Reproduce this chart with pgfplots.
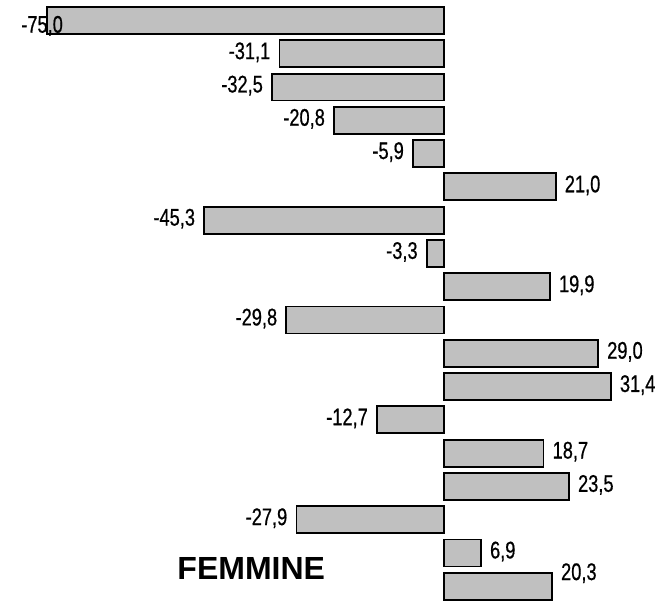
\documentclass[border=0pt]{standalone}
\usepackage{pgfplots}
\pgfplotsset{compat=1.18}
\usepackage{fontspec}
\setmainfont{Liberation Sans}
\newfontfamily\narrow[FakeStretch=0.76,FakeBold=0.6]{Liberation Sans}
\definecolor{barfill}{HTML}{C0C0C0}
\begin{document}
\begin{tikzpicture}[x=1pt,y=1pt]
\begin{axis}[
  scale only axis,
  width=491.25pt, height=453.75pt,
  xmin=-83.83, xmax=39.75,
  ymin=0.384, ymax=18.563,
  y dir=reverse,
  hide axis,
  clip=false,
  every node near coord/.append style={font=\narrow\fontsize{18pt}{18pt}\selectfont, inner sep=0pt, text=black},
]
\addplot[xbar, bar shift=0pt, bar width=0.81, fill=barfill, draw=black, line width=1.4pt,
  point meta=explicit symbolic, nodes near coords,
  nodes near coords style={anchor=east, xshift=-6.2pt, yshift=1.1pt}]
coordinates {
(-31.1,2) [-31,1]
(-32.5,3) [-32,5]
(-20.8,4) [-20,8]
(-5.9,5) [-5,9]
(-45.3,7) [-45,3]
(-3.3,8) [-3,3]
(-29.8,10) [-29,8]
(-12.7,13) [-12,7]
(-27.9,16) [-27,9]
};
\addplot[xbar, bar shift=0pt, bar width=0.81, fill=barfill, draw=black, line width=1.4pt,
  point meta=explicit symbolic, nodes near coords,
  nodes near coords style={anchor=west, xshift=6.2pt, yshift=1.1pt}]
coordinates {
(21.0,6) [21,0]
(19.9,9) [19,9]
(29.0,11) [29,0]
(31.4,12) [31,4]
(18.7,14) [18,7]
(23.5,15) [23,5]
(6.9,17) [6,9]
};
\addplot[xbar, bar shift=0pt, bar width=0.81, fill=barfill, draw=black, line width=1.4pt,
  point meta=explicit symbolic, nodes near coords,
  nodes near coords style={anchor=west, xshift=6.2pt, yshift=9.8pt}]
coordinates {
(20.3,18) [20,3]
};
\addplot[xbar, bar shift=0pt, bar width=0.81, fill=barfill, draw=black, line width=1.4pt,
  point meta=explicit symbolic, nodes near coords,
  nodes near coords style={anchor=east, xshift=12.75pt, yshift=-4pt}]
coordinates {
(-75.0,1) [-75,0]
};
\node[anchor=base west, inner sep=0pt, font=\bfseries\fontsize{24pt}{24pt}\selectfont] at (axis cs:-50.4,17.81) {FEMMINE};
\coordinate (bl) at (rel axis cs:0,0);
\coordinate (tr) at (rel axis cs:1,1);
\end{axis}
\pgfresetboundingbox
\path (bl) rectangle (tr);
\end{tikzpicture}
\end{document}
